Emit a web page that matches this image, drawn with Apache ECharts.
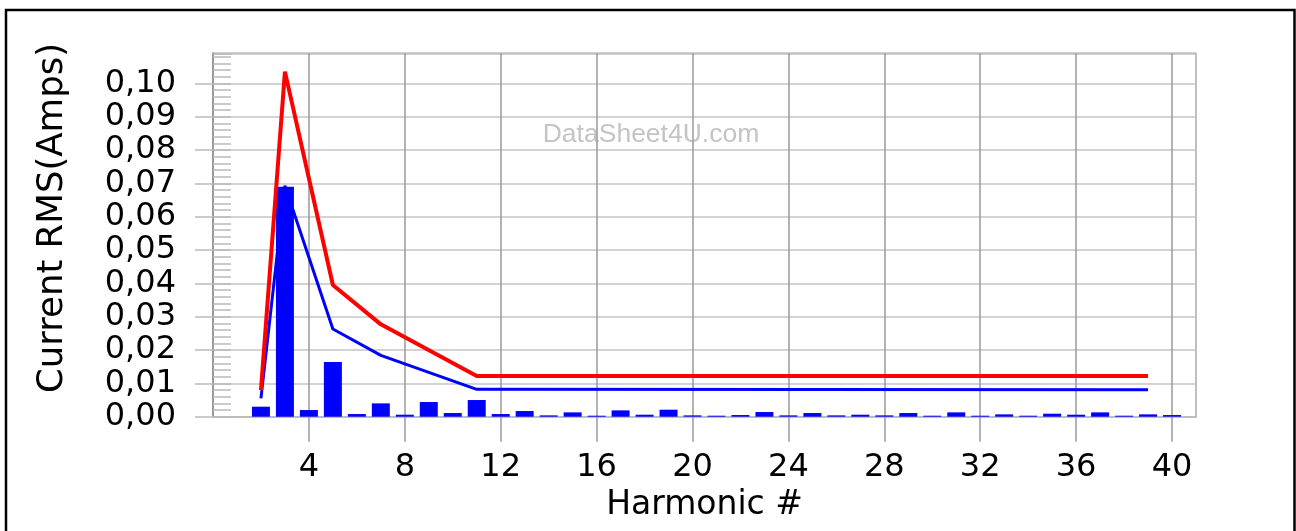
<!DOCTYPE html>
<html>
<head>
<meta charset="utf-8">
<style>
html,body{margin:0;padding:0;background:#fff;}
#chart{width:1296px;height:531px;}
</style>
<script src="https://cdn.jsdelivr.net/npm/echarts@6/dist/echarts.min.js"></script>
</head>
<body>
<div id="chart"></div>
<script>
// Harmonic numbers and measured current (bars)
const harmonics = [2,3,4,5,6,7,8,9,10,11,12,13,14,15,16,17,18,19,20,21,22,23,24,25,26,27,28,29,30,31,32,33,34,35,36,37,38,39,40];
const measured  = [0.003,0.069,0.002,0.0164,0.0008,0.004,0.0006,0.0044,0.0011,0.005,0.0008,0.0017,0.0004,0.0013,0.0003,0.0019,0.0006,0.0021,0.0004,0.0003,0.0005,0.0014,0.0004,0.0011,0.0004,0.0006,0.0004,0.0011,0.0003,0.0013,0.0003,0.0007,0.0003,0.0009,0.0006,0.0013,0.0003,0.0007,0.0005];
// Limit curves (vertices)
const redX  = [2,3,5,7,11,39];
const redY  = [0.008,0.1035,0.0395,0.0277,0.0122,0.0122];
const blueX = [2,3,5,7,11,39];
const blueY = [0.0055,0.0693,0.0263,0.0184,0.0082,0.0081];
const xTicks = [4,8,12,16,20,24,28,32,36,40];

const pair = (xs, ys) => xs.map((x,i)=>[x, ys[i]]);
const fmt = v => v.toFixed(2).replace('.', ',');

const chart = echarts.init(document.getElementById('chart'));
const gridGray = '#c4c4c4';
const vGray = '#9a9a9a';
chart.setOption({
  animation: false,
  backgroundColor: '#fff',
  grid: {left: 213, right: 100, top: 53.3, bottom: 114.3, show: true, borderColor: '#aaa', borderWidth: 1.5, containLabel: false},
  xAxis: {
    type: 'value', min: 0, max: 41, interval: 4,
    name: 'Harmonic #', nameLocation: 'middle', nameGap: 72,
    nameTextStyle: {fontFamily: 'DejaVu Sans', fontSize: 33, color: '#000'},
    axisLine: {show: true, onZero: false, lineStyle: {color: '#bbb', width: 1.5}},
    axisTick: {show: true, length: 25, customValues: xTicks, lineStyle: {color: vGray, width: 1.5}},
    axisLabel: {customValues: xTicks, fontFamily: 'DejaVu Sans', fontSize: 32, color: '#000', margin: 35},
    splitLine: {show: true, lineStyle: {color: vGray, width: 1.5}}
  },
  yAxis: [{
    type: 'value', min: 0, max: 0.109, interval: 0.01,
    name: 'Current RMS(Amps)', nameLocation: 'middle', nameGap: 142, nameRotate: 90,
    nameTextStyle: {fontFamily: 'DejaVu Sans', fontSize: 35.5, color: '#000', padding: [0, 0, 0, 34]},
    axisLine: {show: true, lineStyle: {color: '#999', width: 2}},
    axisTick: {show: true, length: 18, lineStyle: {color: '#bbb', width: 1.5}},
    axisLabel: {formatter: fmt, showMaxLabel: false, fontFamily: 'DejaVu Sans', fontSize: 32, color: '#000', margin: 37},
    splitLine: {show: true, lineStyle: {color: gridGray, width: 1.5}}
  },{
    type: 'value', min: 0, max: 0.109, interval: 0.01, position: 'left',
    axisLine: {show: false},
    axisTick: {show: true, inside: true, length: 18, lineStyle: {color: '#bbb', width: 1.5}},
    minorTick: {show: true, splitNumber: 5, length: 18, lineStyle: {color: '#bbb', width: 1.5}},
    axisLabel: {show: false},
    splitLine: {show: false}
  }],
  graphic: [
    {type: 'rect', z: 100, shape: {x: 6, y: 10, width: 1288.5, height: 600}, style: {fill: 'none', stroke: '#000', lineWidth: 2.5}},
    {type: 'text', z: -10, x: 651, y: 134.5, style: {text: 'DataSheet4U.com', font: '26.5px "Liberation Sans", Arial, sans-serif', fill: '#c4c4c4', align: 'center', verticalAlign: 'middle'}}
  ],
  series: [
    {type: 'bar', data: pair(harmonics, measured), barWidth: 18, itemStyle: {color: '#0000ff'}, z: 2},
    {type: 'line', data: pair(blueX, blueY), showSymbol: false, symbol: 'none', lineStyle: {color: '#0000ff', width: 3}, z: 3},
    {type: 'line', data: pair(redX, redY), showSymbol: false, symbol: 'none', lineStyle: {color: '#ff0000', width: 4}, z: 4}
  ]
});
</script>
</body>
</html>
